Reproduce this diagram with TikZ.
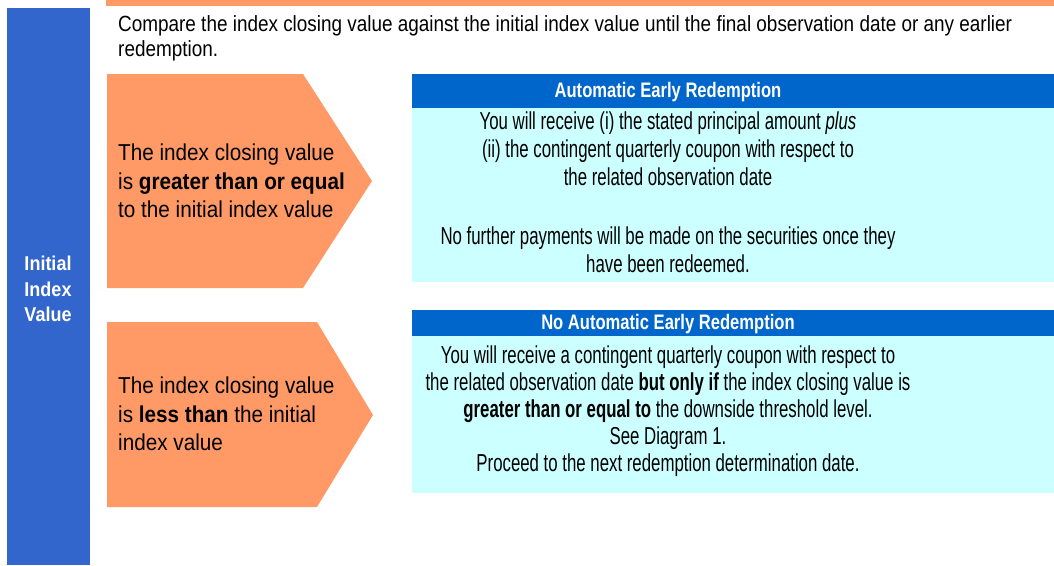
\documentclass[tikz,border=0pt]{standalone}
\usepackage{fontspec}
\setmainfont{Liberation Sans}
\newfontfamily\bodyfont{Liberation Sans}[FakeStretch=0.686]
\newfontfamily\headfont{Liberation Sans}[FakeStretch=0.79]
\newfontfamily\pentfont{Liberation Sans}[FakeStretch=0.9]
\newfontfamily\cmpfont{Liberation Sans}[FakeStretch=0.86]
\definecolor{orangec}{HTML}{FF9966}
\definecolor{barblue}{HTML}{3366CC}
\definecolor{headblue}{HTML}{0066CC}
\definecolor{cyanbox}{HTML}{CCFFFF}
\tikzset{
  pent/.style={fill=orangec},
  pentext/.style={anchor=west, align=left, inner sep=0pt, text=black, font=\pentfont\fontsize{23}{28.5}\selectfont},
  head/.style={fill=headblue},
  headtext/.style={text=white, inner sep=0pt, font=\headfont\bfseries\fontsize{21}{22}\selectfont},
  body/.style={fill=cyanbox},
  bodytext/.style={align=center, inner sep=0pt, text=black, font=\bodyfont\fontsize{24.5}{28}\selectfont},
}
\begin{document}
\begin{tikzpicture}[x=1pt,y=-1pt]
\useasboundingbox (0,0) rectangle (1054,565);
\fill[orangec] (106,0) rectangle (1054,6);
\fill[barblue] (7,8) rectangle (90,565);
\node[text=white, align=center, inner sep=0pt, font=\pentfont\bfseries\fontsize{20}{25.5}\selectfont] (iv) at (48,289) {Initial\\Index\\Value};
\node[anchor=north west, align=left, inner sep=0pt, font=\cmpfont\fontsize{22}{25}\selectfont] (cmp) at (118,15.5) {Compare the index closing value against the initial index value until the final observation date or any earlier\\redemption.};
% pentagon 1
\fill[pent] (107,74) -- (303,74) -- (372,181) -- (303,288) -- (107,288) -- cycle;
\node[pentext] (p1) at (118,181) {The index closing value\\is \textbf{greater than or equal}\\to the initial index value};
% pentagon 2
\fill[pent] (107,322) -- (317,322) -- (373,415) -- (317,507) -- (107,507) -- cycle;
\node[pentext] (p2) at (118,414) {The index closing value\\is \textbf{less than} the initial\\index value};
% box 1
\fill[body] (412,108) rectangle (1054,282);
\fill[head] (412,74) rectangle (1054,108);
\node[headtext] (h1) at (668,92.5) {Automatic Early Redemption};
\node[bodytext, anchor=north] (b1) at (668,112) {You will receive (i) the stated principal amount \textit{plus}\\(ii) the contingent quarterly coupon with respect to\\the related observation date\\[31pt]No further payments will be made on the securities once they\\have been redeemed.};
% box 2
\fill[body] (412,336) rectangle (1054,493);
\fill[head] (412,310) rectangle (1054,336);
\node[headtext] (h2) at (668,324.5) {No Automatic Early Redemption};
\node[bodytext, anchor=north, font=\bodyfont\fontsize{24.5}{27}\selectfont] (b2) at (668,346) {You will receive a contingent quarterly coupon with respect to\\the related observation date \textbf{but only if} the index closing value is\\\textbf{greater than or equal to} the downside threshold level.\\See Diagram 1.\\Proceed to the next redemption determination date.};
\end{tikzpicture}
\end{document}
